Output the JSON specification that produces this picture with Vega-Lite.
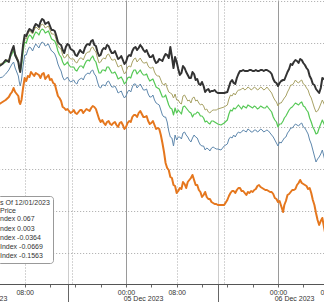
{
  "$schema": "https://vega.github.io/schema/vega-lite/v6.json",
  "width": 324,
  "height": 284,
  "autosize": "none",
  "padding": {"left": 0, "top": 0, "right": 0, "bottom": 18},
  "config": {"view": {"stroke": null}, "font": "Liberation Sans"},
  "datasets": {
    "prices": [
      {"h":4,"Index 1":18.7,"Index 2":18.9,"Index 3":18.7,"Index 4":17.5,"Index 5":14.9},
      {"h":4.5,"Index 1":18.9,"Index 2":19.0,"Index 3":18.9,"Index 4":17.6,"Index 5":15.1},
      {"h":5,"Index 1":19.3,"Index 2":19.3,"Index 3":19.1,"Index 4":17.9,"Index 5":15.3},
      {"h":5.5,"Index 1":19.1,"Index 2":19.3,"Index 3":19.3,"Index 4":18.3,"Index 5":15.6},
      {"h":5.75,"Index 1":19.8,"Index 2":19.8,"Index 3":19.6,"Index 4":18.6,"Index 5":15.9},
      {"h":6,"Index 1":20.3,"Index 2":20.1,"Index 3":19.9,"Index 4":18.9,"Index 5":16.1},
      {"h":6.25,"Index 1":20.7,"Index 2":20.5,"Index 3":20.3,"Index 4":19.1,"Index 5":16.5},
      {"h":6.5,"Index 1":19.8,"Index 2":20.0,"Index 3":19.7,"Index 4":18.5,"Index 5":16.1},
      {"h":7,"Index 1":19.1,"Index 2":19.3,"Index 3":19.1,"Index 4":17.7,"Index 5":15.7},
      {"h":7.15,"Index 1":18.5,"Index 2":18.7,"Index 3":18.5,"Index 4":17.1,"Index 5":15.1},
      {"h":7.3,"Index 1":18.1,"Index 2":18.3,"Index 3":18.1,"Index 4":16.7,"Index 5":14.9},
      {"h":7.5,"Index 1":19.3,"Index 2":19.1,"Index 3":18.7,"Index 4":17.3,"Index 5":15.3},
      {"h":7.75,"Index 1":20.8,"Index 2":20.5,"Index 3":20.1,"Index 4":18.7,"Index 5":16.5},
      {"h":8,"Index 1":21.8,"Index 2":21.5,"Index 3":21.1,"Index 4":19.8,"Index 5":17.5},
      {"h":8.5,"Index 1":22.1,"Index 2":21.9,"Index 3":21.5,"Index 4":20.3,"Index 5":17.7},
      {"h":9,"Index 1":22.3,"Index 2":22.1,"Index 3":21.7,"Index 4":20.5,"Index 5":18.1},
      {"h":9.5,"Index 1":22.6,"Index 2":22.3,"Index 3":21.8,"Index 4":20.6,"Index 5":17.7},
      {"h":10,"Index 1":22.8,"Index 2":22.5,"Index 3":22.0,"Index 4":20.7,"Index 5":17.9},
      {"h":10.5,"Index 1":23.1,"Index 2":22.7,"Index 3":22.2,"Index 4":20.9,"Index 5":17.5},
      {"h":11,"Index 1":23.3,"Index 2":22.8,"Index 3":22.3,"Index 4":21.0,"Index 5":18.0},
      {"h":11.5,"Index 1":23.0,"Index 2":22.6,"Index 3":22.1,"Index 4":20.8,"Index 5":17.6},
      {"h":12,"Index 1":22.7,"Index 2":22.3,"Index 3":21.8,"Index 4":20.5,"Index 5":17.3},
      {"h":12.5,"Index 1":22.3,"Index 2":21.9,"Index 3":21.3,"Index 4":20.1,"Index 5":17.0},
      {"h":13,"Index 1":21.7,"Index 2":21.3,"Index 3":20.8,"Index 4":19.5,"Index 5":16.3},
      {"h":13.5,"Index 1":20.9,"Index 2":20.5,"Index 3":19.8,"Index 4":18.5,"Index 5":15.5},
      {"h":14,"Index 1":20.3,"Index 2":19.8,"Index 3":19.1,"Index 4":17.6,"Index 5":14.6},
      {"h":14.5,"Index 1":20.6,"Index 2":19.6,"Index 3":18.9,"Index 4":17.4,"Index 5":14.3},
      {"h":15,"Index 1":20.8,"Index 2":19.6,"Index 3":18.8,"Index 4":17.3,"Index 5":14.2},
      {"h":15.5,"Index 1":20.3,"Index 2":19.4,"Index 3":18.6,"Index 4":17.2,"Index 5":14.1},
      {"h":16,"Index 1":19.8,"Index 2":19.1,"Index 3":18.3,"Index 4":17.0,"Index 5":14.0},
      {"h":16.5,"Index 1":20.0,"Index 2":19.3,"Index 3":18.5,"Index 4":17.3,"Index 5":14.1},
      {"h":17,"Index 1":20.1,"Index 2":19.5,"Index 3":18.7,"Index 4":17.5,"Index 5":14.3},
      {"h":17.5,"Index 1":20.5,"Index 2":19.7,"Index 3":18.9,"Index 4":17.7,"Index 5":14.2},
      {"h":18,"Index 1":20.9,"Index 2":20.1,"Index 3":19.3,"Index 4":18.0,"Index 5":14.3},
      {"h":18.5,"Index 1":21.2,"Index 2":20.5,"Index 3":19.5,"Index 4":18.2,"Index 5":14.5},
      {"h":19,"Index 1":20.8,"Index 2":20.3,"Index 3":19.3,"Index 4":17.9,"Index 5":14.6},
      {"h":19.5,"Index 1":20.1,"Index 2":19.5,"Index 3":18.5,"Index 4":17.1,"Index 5":13.9},
      {"h":20,"Index 1":19.8,"Index 2":19.1,"Index 3":18.0,"Index 4":16.5,"Index 5":13.1},
      {"h":20.5,"Index 1":20.5,"Index 2":19.5,"Index 3":18.3,"Index 4":16.8,"Index 5":13.0},
      {"h":21,"Index 1":20.8,"Index 2":19.8,"Index 3":18.6,"Index 4":17.1,"Index 5":13.1},
      {"h":21.5,"Index 1":20.3,"Index 2":19.6,"Index 3":18.3,"Index 4":16.9,"Index 5":12.9},
      {"h":22,"Index 1":20.0,"Index 2":19.3,"Index 3":18.0,"Index 4":16.6,"Index 5":13.0},
      {"h":22.5,"Index 1":19.8,"Index 2":19.0,"Index 3":17.8,"Index 4":16.4,"Index 5":12.8},
      {"h":23,"Index 1":19.5,"Index 2":18.7,"Index 3":17.5,"Index 4":16.1,"Index 5":13.0},
      {"h":23.5,"Index 1":19.3,"Index 2":18.3,"Index 3":17.3,"Index 4":15.8,"Index 5":12.8},
      {"h":24,"Index 1":19.1,"Index 2":18.1,"Index 3":17.1,"Index 4":15.7,"Index 5":12.6},
      {"h":24.5,"Index 1":19.8,"Index 2":18.7,"Index 3":17.6,"Index 4":16.3,"Index 5":13.2},
      {"h":25,"Index 1":20.2,"Index 2":19.1,"Index 3":18.0,"Index 4":16.6,"Index 5":13.6},
      {"h":25.5,"Index 1":20.6,"Index 2":19.5,"Index 3":18.3,"Index 4":16.9,"Index 5":13.8},
      {"h":26,"Index 1":20.5,"Index 2":19.3,"Index 3":18.1,"Index 4":16.7,"Index 5":14.0},
      {"h":26.5,"Index 1":20.6,"Index 2":19.2,"Index 3":18.0,"Index 4":16.6,"Index 5":13.9},
      {"h":27,"Index 1":20.1,"Index 2":19.0,"Index 3":17.8,"Index 4":16.3,"Index 5":13.6},
      {"h":27.5,"Index 1":19.9,"Index 2":18.7,"Index 3":17.5,"Index 4":15.9,"Index 5":13.2},
      {"h":28,"Index 1":19.6,"Index 2":18.5,"Index 3":17.3,"Index 4":15.6,"Index 5":13.0},
      {"h":28.5,"Index 1":19.3,"Index 2":18.1,"Index 3":17.0,"Index 4":15.3,"Index 5":12.8},
      {"h":29,"Index 1":19.1,"Index 2":17.7,"Index 3":16.5,"Index 4":14.9,"Index 5":12.5},
      {"h":29.5,"Index 1":19.3,"Index 2":17.3,"Index 3":16.0,"Index 4":14.3,"Index 5":11.8},
      {"h":30,"Index 1":19.6,"Index 2":16.8,"Index 3":15.6,"Index 4":13.6,"Index 5":10.1},
      {"h":30.5,"Index 1":19.8,"Index 2":16.5,"Index 3":15.3,"Index 4":13.1,"Index 5":8.5},
      {"h":31,"Index 1":20.6,"Index 2":16.0,"Index 3":14.5,"Index 4":11.6,"Index 5":7.6},
      {"h":31.5,"Index 1":18.5,"Index 2":15.5,"Index 3":13.8,"Index 4":10.7,"Index 5":6.8},
      {"h":32,"Index 1":19.1,"Index 2":15.3,"Index 3":14.0,"Index 4":11.3,"Index 5":6.0},
      {"h":32.5,"Index 1":17.8,"Index 2":15.0,"Index 3":14.1,"Index 4":11.6,"Index 5":6.5},
      {"h":33,"Index 1":18.7,"Index 2":15.7,"Index 3":14.6,"Index 4":12.0,"Index 5":7.1},
      {"h":33.5,"Index 1":18.1,"Index 2":15.5,"Index 3":14.5,"Index 4":11.8,"Index 5":6.5},
      {"h":34,"Index 1":17.5,"Index 2":15.3,"Index 3":14.1,"Index 4":11.3,"Index 5":7.3},
      {"h":34.5,"Index 1":18.1,"Index 2":15.5,"Index 3":13.6,"Index 4":11.5,"Index 5":7.8},
      {"h":35,"Index 1":17.3,"Index 2":15.2,"Index 3":13.9,"Index 4":11.6,"Index 5":6.8},
      {"h":35.5,"Index 1":16.9,"Index 2":15.0,"Index 3":14.0,"Index 4":11.1,"Index 5":6.3},
      {"h":36,"Index 1":17.1,"Index 2":14.9,"Index 3":13.7,"Index 4":10.7,"Index 5":5.6},
      {"h":36.5,"Index 1":16.1,"Index 2":14.3,"Index 3":13.1,"Index 4":10.3,"Index 5":6.1},
      {"h":37,"Index 1":16.4,"Index 2":14.1,"Index 3":13.0,"Index 4":10.4,"Index 5":5.4},
      {"h":37.5,"Index 1":16.2,"Index 2":14.2,"Index 3":13.2,"Index 4":10.5,"Index 5":5.1},
      {"h":38,"Index 1":16.3,"Index 2":14.3,"Index 3":13.1,"Index 4":10.5,"Index 5":4.9},
      {"h":38.5,"Index 1":16.0,"Index 2":14.4,"Index 3":12.9,"Index 4":10.4,"Index 5":4.8},
      {"h":39,"Index 1":16.0,"Index 2":14.5,"Index 3":12.8,"Index 4":10.3,"Index 5":4.8},
      {"h":39.5,"Index 1":16.0,"Index 2":14.6,"Index 3":13.0,"Index 4":10.7,"Index 5":4.8},
      {"h":40,"Index 1":16.1,"Index 2":14.8,"Index 3":13.3,"Index 4":10.9,"Index 5":5.3},
      {"h":40.5,"Index 1":17.1,"Index 2":15.8,"Index 3":14.3,"Index 4":11.6,"Index 5":6.0},
      {"h":41,"Index 1":17.0,"Index 2":16.0,"Index 3":14.5,"Index 4":11.8,"Index 5":6.2},
      {"h":41.5,"Index 1":17.5,"Index 2":16.1,"Index 3":14.6,"Index 4":11.9,"Index 5":6.3},
      {"h":42,"Index 1":18.2,"Index 2":16.3,"Index 3":14.6,"Index 4":12.0,"Index 5":6.5},
      {"h":42.5,"Index 1":18.3,"Index 2":16.5,"Index 3":14.7,"Index 4":12.3,"Index 5":6.2},
      {"h":43,"Index 1":18.2,"Index 2":16.4,"Index 3":14.5,"Index 4":12.1,"Index 5":5.8},
      {"h":43.5,"Index 1":18.3,"Index 2":16.5,"Index 3":14.7,"Index 4":12.3,"Index 5":6.0},
      {"h":44,"Index 1":18.2,"Index 2":16.4,"Index 3":14.5,"Index 4":12.1,"Index 5":6.1},
      {"h":44.5,"Index 1":18.3,"Index 2":16.5,"Index 3":14.6,"Index 4":12.3,"Index 5":6.4},
      {"h":45,"Index 1":18.2,"Index 2":16.4,"Index 3":14.5,"Index 4":12.2,"Index 5":6.8},
      {"h":45.5,"Index 1":18.3,"Index 2":16.5,"Index 3":14.6,"Index 4":12.3,"Index 5":6.5},
      {"h":46,"Index 1":18.3,"Index 2":16.4,"Index 3":14.5,"Index 4":12.2,"Index 5":6.3},
      {"h":46.5,"Index 1":18.2,"Index 2":16.4,"Index 3":14.5,"Index 4":12.2,"Index 5":6.2},
      {"h":47,"Index 1":17.9,"Index 2":16.0,"Index 3":14.1,"Index 4":11.8,"Index 5":6.1},
      {"h":47.5,"Index 1":17.1,"Index 2":15.3,"Index 3":13.3,"Index 4":11.3,"Index 5":5.5},
      {"h":48,"Index 1":16.7,"Index 2":14.7,"Index 3":12.6,"Index 4":10.7,"Index 5":5.1},
      {"h":48.5,"Index 1":17.2,"Index 2":15.0,"Index 3":12.9,"Index 4":11.0,"Index 5":4.7},
      {"h":48.8,"Index 1":17.3,"Index 2":15.3,"Index 3":13.2,"Index 4":11.3,"Index 5":4.1},
      {"h":49,"Index 1":17.3,"Index 2":15.5,"Index 3":13.5,"Index 4":11.5,"Index 5":4.8},
      {"h":49.5,"Index 1":18.1,"Index 2":16.1,"Index 3":14.0,"Index 4":12.0,"Index 5":5.8},
      {"h":50,"Index 1":18.9,"Index 2":16.8,"Index 3":14.5,"Index 4":12.5,"Index 5":6.1},
      {"h":50.5,"Index 1":19.1,"Index 2":17.0,"Index 3":14.8,"Index 4":12.7,"Index 5":6.3},
      {"h":51,"Index 1":19.2,"Index 2":17.1,"Index 3":14.9,"Index 4":12.8,"Index 5":6.8},
      {"h":51.5,"Index 1":19.4,"Index 2":17.2,"Index 3":15.0,"Index 4":12.9,"Index 5":7.3},
      {"h":52,"Index 1":19.0,"Index 2":16.9,"Index 3":14.7,"Index 4":12.6,"Index 5":6.9},
      {"h":52.5,"Index 1":18.5,"Index 2":16.5,"Index 3":14.3,"Index 4":12.2,"Index 5":6.7},
      {"h":53,"Index 1":17.7,"Index 2":15.8,"Index 3":13.5,"Index 4":11.3,"Index 5":6.5},
      {"h":53.5,"Index 1":16.9,"Index 2":15.0,"Index 3":12.6,"Index 4":10.3,"Index 5":5.3},
      {"h":54,"Index 1":16.4,"Index 2":14.1,"Index 3":11.9,"Index 4":9.1,"Index 5":4.0},
      {"h":54.5,"Index 1":16.0,"Index 2":14.5,"Index 3":12.5,"Index 4":9.6,"Index 5":2.8},
      {"h":55,"Index 1":17.5,"Index 2":15.3,"Index 3":13.3,"Index 4":10.3,"Index 5":3.5},
      {"h":55.5,"Index 1":17.3,"Index 2":14.6,"Index 3":12.6,"Index 4":9.0,"Index 5":1.8},
      {"h":8.25,"Index 1":21.7,"Index 2":21.4,"Index 3":21.0,"Index 4":19.8,"Index 5":17.2},
      {"h":8.75,"Index 1":22.4,"Index 2":22.2,"Index 3":21.8,"Index 4":20.6,"Index 5":17.6},
      {"h":9.25,"Index 1":22.1,"Index 2":21.9,"Index 3":21.4,"Index 4":20.2,"Index 5":17.9},
      {"h":9.75,"Index 1":22.9,"Index 2":22.6,"Index 3":22.1,"Index 4":20.9,"Index 5":18.0},
      {"h":10.25,"Index 1":22.6,"Index 2":22.3,"Index 3":21.8,"Index 4":20.5,"Index 5":17.8},
      {"h":10.75,"Index 1":23.4,"Index 2":22.9,"Index 3":22.4,"Index 4":21.1,"Index 5":17.9},
      {"h":11.25,"Index 1":22.9,"Index 2":22.5,"Index 3":22.0,"Index 4":20.7,"Index 5":17.4},
      {"h":11.75,"Index 1":23.1,"Index 2":22.7,"Index 3":22.2,"Index 4":20.9,"Index 5":17.8},
      {"h":12.25,"Index 1":22.3,"Index 2":21.9,"Index 3":21.4,"Index 4":20.2,"Index 5":17.4},
      {"h":12.75,"Index 1":22.2,"Index 2":21.8,"Index 3":21.2,"Index 4":19.9,"Index 5":16.9},
      {"h":13.25,"Index 1":21.1,"Index 2":20.7,"Index 3":20.2,"Index 4":18.9,"Index 5":15.7},
      {"h":13.75,"Index 1":20.8,"Index 2":20.4,"Index 3":19.6,"Index 4":18.2,"Index 5":15.2},
      {"h":14.25,"Index 1":20.0,"Index 2":19.5,"Index 3":18.8,"Index 4":17.3,"Index 5":14.5},
      {"h":14.75,"Index 1":20.9,"Index 2":19.9,"Index 3":19.1,"Index 4":17.6,"Index 5":14.4},
      {"h":15.25,"Index 1":20.4,"Index 2":19.4,"Index 3":18.6,"Index 4":17.1,"Index 5":14.0},
      {"h":15.75,"Index 1":20.2,"Index 2":19.4,"Index 3":18.6,"Index 4":17.3,"Index 5":14.3},
      {"h":16.25,"Index 1":19.7,"Index 2":19.0,"Index 3":18.2,"Index 4":16.9,"Index 5":13.9},
      {"h":16.75,"Index 1":20.3,"Index 2":19.5,"Index 3":18.7,"Index 4":17.4,"Index 5":14.3},
      {"h":17.25,"Index 1":20.0,"Index 2":19.3,"Index 3":18.5,"Index 4":17.3,"Index 5":14.0},
      {"h":17.75,"Index 1":20.8,"Index 2":20.0,"Index 3":19.2,"Index 4":17.9,"Index 5":14.4},
      {"h":18.25,"Index 1":20.8,"Index 2":20.1,"Index 3":19.2,"Index 4":17.9,"Index 5":14.2},
      {"h":18.75,"Index 1":21.3,"Index 2":20.6,"Index 3":19.7,"Index 4":18.3,"Index 5":14.7},
      {"h":19.25,"Index 1":20.7,"Index 2":20.1,"Index 3":19.1,"Index 4":17.7,"Index 5":14.4},
      {"h":19.75,"Index 1":19.7,"Index 2":19.0,"Index 3":18.0,"Index 4":16.6,"Index 5":13.4},
      {"h":20.25,"Index 1":20.3,"Index 2":19.4,"Index 3":18.3,"Index 4":16.8,"Index 5":13.3},
      {"h":20.75,"Index 1":20.4,"Index 2":19.4,"Index 3":18.2,"Index 4":16.7,"Index 5":12.8},
      {"h":21.25,"Index 1":20.7,"Index 2":19.9,"Index 3":18.6,"Index 4":17.2,"Index 5":13.2},
      {"h":21.75,"Index 1":20.0,"Index 2":19.3,"Index 3":18.0,"Index 4":16.6,"Index 5":12.8},
      {"h":22.25,"Index 1":20.2,"Index 2":19.4,"Index 3":18.1,"Index 4":16.7,"Index 5":13.1},
      {"h":22.75,"Index 1":19.4,"Index 2":18.6,"Index 3":17.4,"Index 4":16.0,"Index 5":12.6},
      {"h":23.25,"Index 1":19.7,"Index 2":18.8,"Index 3":17.6,"Index 4":16.2,"Index 5":13.1},
      {"h":23.75,"Index 1":18.9,"Index 2":17.9,"Index 3":16.9,"Index 4":15.5,"Index 5":12.4},
      {"h":24.25,"Index 1":19.6,"Index 2":18.6,"Index 3":17.5,"Index 4":16.1,"Index 5":13.0},
      {"h":24.75,"Index 1":19.7,"Index 2":18.6,"Index 3":17.5,"Index 4":16.1,"Index 5":13.1},
      {"h":25.25,"Index 1":20.5,"Index 2":19.4,"Index 3":18.3,"Index 4":16.9,"Index 5":13.8},
      {"h":25.75,"Index 1":20.3,"Index 2":19.1,"Index 3":17.9,"Index 4":16.5,"Index 5":13.6},
      {"h":26.25,"Index 1":20.8,"Index 2":19.5,"Index 3":18.3,"Index 4":16.9,"Index 5":14.2},
      {"h":26.75,"Index 1":20.3,"Index 2":19.0,"Index 3":17.8,"Index 4":16.3,"Index 5":13.6},
      {"h":27.25,"Index 1":20.3,"Index 2":19.1,"Index 3":17.9,"Index 4":16.4,"Index 5":13.7},
      {"h":27.75,"Index 1":19.6,"Index 2":18.5,"Index 3":17.2,"Index 4":15.6,"Index 5":12.9},
      {"h":28.25,"Index 1":19.8,"Index 2":18.6,"Index 3":17.4,"Index 4":15.8,"Index 5":13.2},
      {"h":28.75,"Index 1":19.0,"Index 2":17.8,"Index 3":16.6,"Index 4":15.0,"Index 5":12.4},
      {"h":29.25,"Index 1":19.4,"Index 2":17.7,"Index 3":16.4,"Index 4":14.8,"Index 5":12.4},
      {"h":29.75,"Index 1":19.2,"Index 2":16.9,"Index 3":15.6,"Index 4":13.8,"Index 5":11.0},
      {"h":30.25,"Index 1":19.9,"Index 2":17.0,"Index 3":15.8,"Index 4":13.6,"Index 5":9.0},
      {"h":30.75,"Index 1":19.5,"Index 2":16.1,"Index 3":14.8,"Index 4":12.2,"Index 5":8.3},
      {"h":31.25,"Index 1":19.6,"Index 2":15.9,"Index 3":14.4,"Index 4":11.5,"Index 5":7.5},
      {"h":31.75,"Index 1":19.6,"Index 2":15.9,"Index 3":14.5,"Index 4":11.8,"Index 5":6.7},
      {"h":32.25,"Index 1":18.4,"Index 2":15.3,"Index 3":14.3,"Index 4":11.6,"Index 5":6.2},
      {"h":32.75,"Index 1":18.0,"Index 2":14.9,"Index 3":13.9,"Index 4":11.4,"Index 5":6.4},
      {"h":33.25,"Index 1":18.5,"Index 2":15.8,"Index 3":14.7,"Index 4":12.1,"Index 5":6.9},
      {"h":33.75,"Index 1":17.8,"Index 2":15.2,"Index 3":14.3,"Index 4":11.6,"Index 5":7.1},
      {"h":34.25,"Index 1":17.5,"Index 2":15.0,"Index 3":14.0,"Index 4":11.1,"Index 5":7.5},
      {"h":34.75,"Index 1":17.9,"Index 2":15.6,"Index 3":13.9,"Index 4":11.8,"Index 5":7.3},
      {"h":35.25,"Index 1":17.4,"Index 2":15.3,"Index 3":14.1,"Index 4":11.5,"Index 5":6.8},
      {"h":35.75,"Index 1":16.8,"Index 2":14.8,"Index 3":13.7,"Index 4":10.8,"Index 5":6.1},
      {"h":36.25,"Index 1":16.7,"Index 2":14.7,"Index 3":13.5,"Index 4":10.7,"Index 5":5.8},
      {"h":36.75,"Index 1":16.3,"Index 2":14.4,"Index 3":13.2,"Index 4":10.5,"Index 5":5.6},
      {"h":37.25,"Index 1":16.1,"Index 2":14.0,"Index 3":12.9,"Index 4":10.2,"Index 5":5.4},
      {"h":37.75,"Index 1":16.2,"Index 2":14.3,"Index 3":13.2,"Index 4":10.6,"Index 5":5.0},
      {"h":38.25,"Index 1":16.1,"Index 2":14.3,"Index 3":13.0,"Index 4":10.4,"Index 5":4.9},
      {"h":40.25,"Index 1":16.6,"Index 2":15.4,"Index 3":13.9,"Index 4":11.4,"Index 5":5.7},
      {"h":40.75,"Index 1":17.3,"Index 2":15.7,"Index 3":14.2,"Index 4":11.5,"Index 5":6.2},
      {"h":41.25,"Index 1":16.9,"Index 2":15.8,"Index 3":14.4,"Index 4":11.6,"Index 5":6.0},
      {"h":41.75,"Index 1":17.9,"Index 2":16.3,"Index 3":14.8,"Index 4":12.1,"Index 5":6.5},
      {"h":42.25,"Index 1":18.2,"Index 2":16.4,"Index 3":14.4,"Index 4":12.1,"Index 5":6.2},
      {"h":42.75,"Index 1":18.2,"Index 2":16.3,"Index 3":14.6,"Index 4":12.2,"Index 5":6.0},
      {"h":43.25,"Index 1":18.2,"Index 2":16.6,"Index 3":14.8,"Index 4":12.4,"Index 5":6.1},
      {"h":43.75,"Index 1":18.3,"Index 2":16.3,"Index 3":14.6,"Index 4":12.1,"Index 5":6.2},
      {"h":44.25,"Index 1":18.2,"Index 2":16.6,"Index 3":14.7,"Index 4":12.3,"Index 5":6.3},
      {"h":44.75,"Index 1":18.2,"Index 2":16.3,"Index 3":14.4,"Index 4":12.1,"Index 5":6.7},
      {"h":45.25,"Index 1":18.3,"Index 2":16.6,"Index 3":14.7,"Index 4":12.4,"Index 5":6.6},
      {"h":45.75,"Index 1":18.2,"Index 2":16.3,"Index 3":14.5,"Index 4":12.1,"Index 5":6.4},
      {"h":46.25,"Index 1":18.3,"Index 2":16.6,"Index 3":14.7,"Index 4":12.3,"Index 5":6.3},
      {"h":46.75,"Index 1":18.1,"Index 2":16.2,"Index 3":14.3,"Index 4":12.0,"Index 5":6.1},
      {"h":47.25,"Index 1":17.4,"Index 2":15.6,"Index 3":13.6,"Index 4":11.6,"Index 5":5.9},
      {"h":47.75,"Index 1":17.0,"Index 2":15.1,"Index 3":13.1,"Index 4":11.0,"Index 5":5.4},
      {"h":48.25,"Index 1":17.0,"Index 2":15.0,"Index 3":12.9,"Index 4":11.1,"Index 5":5.2},
      {"h":49.25,"Index 1":17.7,"Index 2":15.7,"Index 3":13.7,"Index 4":11.6,"Index 5":5.2},
      {"h":49.75,"Index 1":18.4,"Index 2":16.4,"Index 3":14.3,"Index 4":12.2,"Index 5":5.9},
      {"h":50.25,"Index 1":18.8,"Index 2":16.8,"Index 3":14.6,"Index 4":12.5,"Index 5":6.3},
      {"h":50.75,"Index 1":19.3,"Index 2":17.3,"Index 3":15.0,"Index 4":12.9,"Index 5":6.4},
      {"h":51.25,"Index 1":19.0,"Index 2":17.0,"Index 3":14.8,"Index 4":12.7,"Index 5":7.0},
      {"h":51.75,"Index 1":19.3,"Index 2":17.3,"Index 3":15.1,"Index 4":13.0,"Index 5":7.0},
      {"h":52.25,"Index 1":18.8,"Index 2":16.8,"Index 3":14.6,"Index 4":12.5,"Index 5":6.8},
      {"h":52.75,"Index 1":18.3,"Index 2":16.3,"Index 3":14.1,"Index 4":11.9,"Index 5":6.4},
      {"h":53.25,"Index 1":17.4,"Index 2":15.5,"Index 3":13.1,"Index 4":10.9,"Index 5":6.0},
      {"h":53.75,"Index 1":16.8,"Index 2":14.5,"Index 3":12.3,"Index 4":9.7,"Index 5":4.8},
      {"h":54.25,"Index 1":16.2,"Index 2":14.2,"Index 3":12.0,"Index 4":9.4,"Index 5":3.3},
      {"h":54.75,"Index 1":16.5,"Index 2":14.9,"Index 3":12.9,"Index 4":9.9,"Index 5":3.2}
    ]
  },
  "layer": [
    {
      "data": {"name": "prices"},
      "transform": [{"fold": ["Index 5", "Index 4", "Index 3", "Index 2", "Index 1"], "as": ["series", "v"]}],
      "mark": {"type": "line", "strokeJoin": "round", "clip": true},
      "encoding": {
        "x": {
          "field": "h", "type": "quantitative",
          "scale": {"domain": [2, 57], "range": [-13.33, 335], "nice": false, "zero": false},
          "axis": {
            "title": null,
            "values": [4, 8, 12, 14.85, 15.5, 16, 20, 24, 28, 32, 36, 38.55, 39.5, 40, 44, 48, 52, 56],
            "labelExpr": "datum.value == 8 || datum.value == 32 || datum.value == 56 ? '08:00' : (datum.value == 24 || datum.value == 48 ? '00:00' : '')",
            "labelFont": "Liberation Sans", "labelFontSize": 7, "labelColor": "#333333",
            "labelPadding": 1, "labelOverlap": false, "labelFlush": false,
            "domainColor": "#555555", "domainWidth": 1,
            "tickColor": {"condition": {"test": "datum.value == 15.5 || datum.value == 39.5", "value": "rgba(0,0,0,0)"}, "value": "#666666"},
            "tickSize": {"condition": {"test": "datum.value == 14.85 || datum.value == 38.55", "value": 18}, "value": 3},
            "grid": true,
            "gridDash": {"condition": {"test": "datum.value == 24 || datum.value == 48 || datum.value == 14.85 || datum.value == 38.55", "value": []}, "value": [1, 2]},
            "gridColor": {"condition": [
              {"test": "datum.value == 24 || datum.value == 48", "value": "#9a9a9a"},
              {"test": "datum.value == 14.85 || datum.value == 38.55", "value": "#cccccc"},
              {"test": "datum.value == 8 || datum.value == 15.5 || datum.value == 32 || datum.value == 39.5 || datum.value == 56", "value": "#a8a8a8"}
            ], "value": "rgba(0,0,0,0)"}
          }
        },
        "y": {
          "field": "v", "type": "quantitative",
          "scale": {"domain": [-3.1, 25.3], "nice": false, "zero": false},
          "axis": {
            "title": null, "labels": false, "ticks": false, "domain": false,
            "values": [0, 4.2, 8.4, 12.6, 16.8, 21, 25.2],
            "grid": true, "gridDash": [1, 2], "gridColor": "#a8a8a8"
          }
        },
        "color": {
          "field": "series", "type": "nominal",
          "scale": {"domain": ["Index 1", "Index 2", "Index 3", "Index 4", "Index 5"], "range": ["#333333", "#a8a266", "#55c855", "#5f88ad", "#e5771e"]},
          "legend": {
            "orient": "none", "legendX": -3, "legendY": 196,
            "title": ["s Of 12/01/2023", "\u00a0Price"],
            "titleFont": "Liberation Sans", "titleFontSize": 7, "titleFontWeight": "normal", "titleColor": "#333333",
            "titleLineHeight": 8.3, "titlePadding": 1.5, "titleLimit": 0,
            "labelFont": "Liberation Sans", "labelFontSize": 7, "labelColor": "#333333", "labelLimit": 0,
            "labelExpr": "datum.label == 'Index 1' ? 'ndex  0.067' : datum.label == 'Index 2' ? 'ndex  0.003' : datum.label == 'Index 3' ? 'ndex  -0.0364' : datum.label == 'Index 4' ? 'Index -0.0669' : 'Index -0.1563'",
            "labelOffset": -7, "symbolSize": 0, "symbolStrokeWidth": 0, "symbolOpacity": 0,
            "rowPadding": 1.2, "padding": 3,
            "strokeColor": "#999999", "fillColor": "#ffffff", "cornerRadius": 3
          }
        },
        "strokeWidth": {
          "field": "series", "type": "nominal",
          "scale": {"type": "ordinal", "domain": ["Index 1", "Index 2", "Index 3", "Index 4", "Index 5"], "range": [2, 1, 1.2, 1, 2]},
          "legend": null
        }
      }
    },
    {
      "data": {"values": [
        {"h": 2.05, "day": "04 Dec 2023"},
        {"h": 26.68, "day": "05 Dec 2023"},
        {"h": 50.53, "day": "06 Dec 2023"}
      ]},
      "mark": {"type": "point", "opacity": 0},
      "encoding": {
        "x": {
          "field": "h", "type": "quantitative",
          "axis": {
            "orient": "bottom", "title": null, "values": [2.05, 26.68, 50.53],
            "labelExpr": "datum.value < 10 ? '04 Dec 2023' : (datum.value < 40 ? '05 Dec 2023' : '06 Dec 2023')",
            "ticks": false, "domain": false, "grid": false,
            "labelFont": "Liberation Sans", "labelFontSize": 7, "labelColor": "#333333",
            "labelPadding": 10, "labelOverlap": false, "labelFlush": false
          }
        },
        "y": {"datum": 0, "type": "quantitative"}
      }
    }
  ],
  "resolve": {"axis": {"x": "independent"}}
}
